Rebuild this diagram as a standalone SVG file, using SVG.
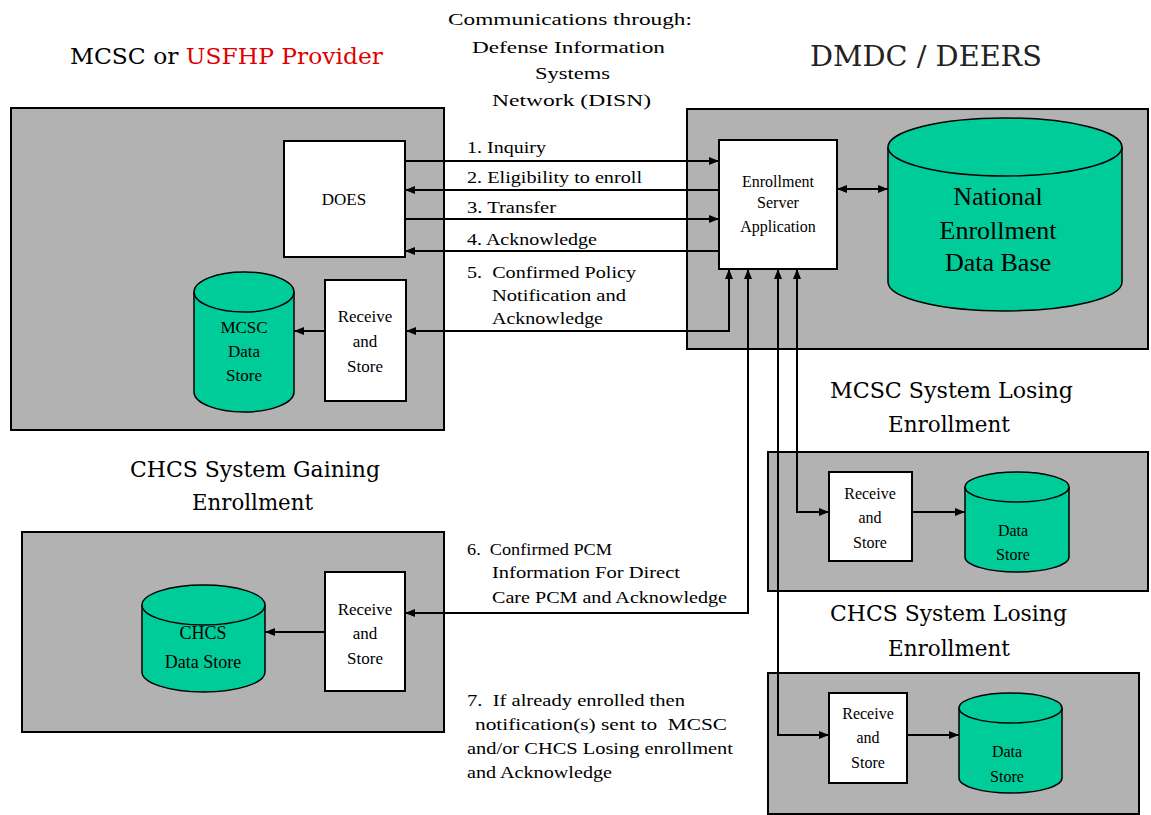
<svg xmlns="http://www.w3.org/2000/svg" width="1151" height="815" viewBox="0 0 1151 815">
<style>
.panel{fill:#b2b2b2;stroke:#000;stroke-width:2}
.box{fill:#fff;stroke:#000;stroke-width:2}
.cyl{fill:#00cc99;stroke:#000;stroke-width:1.5}
.ln{fill:none;stroke:#000;stroke-width:2}
.t{font-family:"Liberation Serif",serif;font-size:17px;fill:#000;white-space:pre}
.tc{font-family:"Liberation Serif",serif;font-size:17px;fill:#000;text-anchor:middle}
.s16{font-size:16px}
.s18{font-size:18px}
.s26{font-size:26px}
.title{font-family:"DejaVu Serif","Liberation Serif",serif;font-size:22px;fill:#000}
.big{font-size:27px;fill:#222}
</style>
<defs>
<marker id="ah" viewBox="0 0 10 8" refX="10" refY="4" markerWidth="10" markerHeight="8" markerUnits="userSpaceOnUse" orient="auto-start-reverse">
<path d="M0,0 L10,4 L0,8 z" fill="#000"/>
</marker>
</defs>
<rect width="1151" height="815" fill="#fff"/>

<!-- titles -->
<text class="title" x="70" y="64" textLength="313" lengthAdjust="spacingAndGlyphs">MCSC or <tspan fill="#e00000">USFHP Provider</tspan></text>
<text class="title big" x="810" y="66" textLength="232" lengthAdjust="spacingAndGlyphs">DMDC / DEERS</text>
<g id="disn-label">
<text class="t" x="448" y="25" textLength="244" lengthAdjust="spacingAndGlyphs">Communications through:</text>
<text class="t" x="472" y="53" textLength="193" lengthAdjust="spacingAndGlyphs">Defense Information</text>
<text class="t" x="535" y="79" textLength="75" lengthAdjust="spacingAndGlyphs">Systems</text>
<text class="t" x="492" y="106" textLength="159" lengthAdjust="spacingAndGlyphs">Network (DISN)</text>
</g>

<!-- panels -->
<g id="mcsc-panel"><rect class="panel" x="11" y="108" width="433" height="322"/></g>
<g id="dmdc-panel"><rect class="panel" x="687" y="109" width="461" height="240"/></g>
<g id="gaining-panel"><rect class="panel" x="22" y="532" width="422" height="200"/>
<text class="title" x="130" y="477" textLength="250" lengthAdjust="spacingAndGlyphs">CHCS System Gaining</text>
<text class="title" x="192" y="510" textLength="121" lengthAdjust="spacingAndGlyphs">Enrollment</text>
</g>
<g id="mcsc-losing-panel"><rect class="panel" x="768" y="452" width="380" height="139"/>
<text class="title" x="830" y="398" textLength="243" lengthAdjust="spacingAndGlyphs">MCSC System Losing</text>
<text class="title" x="888" y="432" textLength="122" lengthAdjust="spacingAndGlyphs">Enrollment</text>
</g>
<g id="chcs-losing-panel"><rect class="panel" x="768" y="673" width="371" height="141"/>
<text class="title" x="830" y="621" textLength="237" lengthAdjust="spacingAndGlyphs">CHCS System Losing</text>
<text class="title" x="888" y="656" textLength="122" lengthAdjust="spacingAndGlyphs">Enrollment</text>
</g>

<!-- nodes -->
<g id="does"><rect class="box" x="284" y="141" width="121" height="116"/>
<text class="tc" x="344" y="205">DOES</text></g>

<g id="mcsc-receive"><rect class="box" x="325" y="280" width="81" height="121"/>
<text class="tc" x="365" y="322">Receive</text><text class="tc" x="365" y="347">and</text><text class="tc" x="365" y="372">Store</text></g>

<g id="mcsc-store">
<path class="cyl" d="M194,292 V392 A50,20 0 0 0 294,392 V292"/>
<ellipse class="cyl" cx="244" cy="292" rx="50" ry="20"/>
<text class="tc" x="244" y="333">MCSC</text><text class="tc" x="244" y="357">Data</text><text class="tc" x="244" y="381">Store</text></g>

<g id="esa"><rect class="box" x="719" y="140" width="118" height="129"/>
<text class="tc s16" x="778" y="187">Enrollment</text><text class="tc s16" x="778" y="208">Server</text><text class="tc s16" x="778" y="232">Application</text></g>

<g id="nedb">
<path class="cyl" d="M888,147 V282 A117,29 0 0 0 1122,282 V147"/>
<ellipse class="cyl" cx="1005" cy="147" rx="117" ry="29"/>
<text class="tc s26" x="998" y="205">National</text>
<text class="tc s26" x="998" y="239">Enrollment</text>
<text class="tc s26" x="998" y="271">Data Base</text></g>

<g id="chcs-receive"><rect class="box" x="325" y="572" width="80" height="119"/>
<text class="tc" x="365" y="615">Receive</text><text class="tc" x="365" y="639">and</text><text class="tc" x="365" y="664">Store</text></g>

<g id="chcs-store">
<path class="cyl" d="M142,605 V672 A61.5,20 0 0 0 265,672 V605"/>
<ellipse class="cyl" cx="203.5" cy="605" rx="61.5" ry="20"/>
<text class="tc s18" x="203" y="639">CHCS</text><text class="tc s18" x="203" y="668">Data Store</text></g>

<g id="mcsc-losing-receive"><rect class="box" x="829" y="472" width="83" height="89"/>
<text class="tc s16" x="870" y="499">Receive</text><text class="tc s16" x="870" y="523">and</text><text class="tc s16" x="870" y="548">Store</text></g>

<g id="mcsc-losing-store">
<path class="cyl" d="M965,487 V557 A52,15 0 0 0 1069,557 V487"/>
<ellipse class="cyl" cx="1017" cy="487" rx="52" ry="15"/>
<text class="tc s16" x="1013" y="536">Data</text><text class="tc s16" x="1013" y="560">Store</text></g>

<g id="chcs-losing-receive"><rect class="box" x="829" y="693" width="78" height="90"/>
<text class="tc s16" x="868" y="719">Receive</text><text class="tc s16" x="868" y="743">and</text><text class="tc s16" x="868" y="768">Store</text></g>

<g id="chcs-losing-store">
<path class="cyl" d="M959,708 V778 A51.5,15 0 0 0 1062,778 V708"/>
<ellipse class="cyl" cx="1010.5" cy="708" rx="51.5" ry="15"/>
<text class="tc s16" x="1007" y="757">Data</text><text class="tc s16" x="1007" y="782">Store</text></g>

<!-- connectors -->
<g id="connectors">
<path class="ln" d="M405,161 H719" marker-end="url(#ah)"/>
<path class="ln" d="M719,190 H405" marker-end="url(#ah)"/>
<path class="ln" d="M405,219 H719" marker-end="url(#ah)"/>
<path class="ln" d="M719,251 H405" marker-end="url(#ah)"/>
<path class="ln" d="M729,269 V331 H406" marker-start="url(#ah)" marker-end="url(#ah)"/>
<path class="ln" d="M748,269 V613 H405" marker-start="url(#ah)" marker-end="url(#ah)"/>
<path class="ln" d="M778,269 V735 H829" marker-start="url(#ah)" marker-end="url(#ah)"/>
<path class="ln" d="M797,269 V512 H829" marker-start="url(#ah)" marker-end="url(#ah)"/>
<path class="ln" d="M837,189 H888" marker-start="url(#ah)" marker-end="url(#ah)"/>
<path class="ln" d="M325,331 H294" marker-end="url(#ah)"/>
<path class="ln" d="M325,632 H265" marker-end="url(#ah)"/>
<path class="ln" d="M912,512 H965" marker-end="url(#ah)"/>
<path class="ln" d="M907,735 H959" marker-end="url(#ah)"/>
</g>

<!-- connector labels -->
<g id="labels">
<text class="t" x="467" y="153" textLength="79" lengthAdjust="spacingAndGlyphs">1. Inquiry</text>
<text class="t" x="467" y="183" textLength="175" lengthAdjust="spacingAndGlyphs">2. Eligibility to enroll</text>
<text class="t" x="467" y="213" textLength="89" lengthAdjust="spacingAndGlyphs">3. Transfer</text>
<text class="t" x="467" y="245" textLength="130" lengthAdjust="spacingAndGlyphs">4. Acknowledge</text>
<text class="t" x="467" y="278" textLength="169" lengthAdjust="spacingAndGlyphs" xml:space="preserve">5.  Confirmed Policy</text>
<text class="t" x="492" y="301" textLength="134" lengthAdjust="spacingAndGlyphs">Notification and</text>
<text class="t" x="492" y="324" textLength="111" lengthAdjust="spacingAndGlyphs">Acknowledge</text>
<text class="t" x="467" y="555" textLength="145" lengthAdjust="spacingAndGlyphs" xml:space="preserve">6.  Confirmed PCM</text>
<text class="t" x="492" y="578" textLength="188" lengthAdjust="spacingAndGlyphs">Information For Direct</text>
<text class="t" x="492" y="603" textLength="235" lengthAdjust="spacingAndGlyphs">Care PCM and Acknowledge</text>
<text class="t" x="467" y="706" textLength="218" lengthAdjust="spacingAndGlyphs" xml:space="preserve">7.  If already enrolled then</text>
<text class="t" x="475" y="730" textLength="252" lengthAdjust="spacingAndGlyphs" xml:space="preserve">notification(s) sent to  MCSC</text>
<text class="t" x="467" y="754" textLength="266" lengthAdjust="spacingAndGlyphs">and/or CHCS Losing enrollment</text>
<text class="t" x="467" y="778" textLength="145" lengthAdjust="spacingAndGlyphs">and Acknowledge</text>
</g>
</svg>
